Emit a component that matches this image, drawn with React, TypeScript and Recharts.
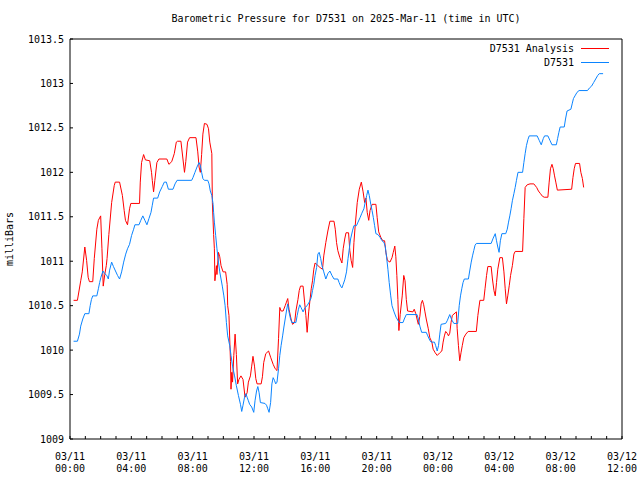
import { LineChart, Line, XAxis, YAxis, Legend } from 'recharts';

const FONT = '"DejaVu Sans Mono", monospace';
const TITLE = 'Barometric Pressure for D7531 on 2025-Mar-11 (time in UTC)';
const seriesNames = ['D7531 Analysis', 'D7531'];

// times are minutes after 03/11 00:00 UTC
const analysisMinutes = [
  14, 29, 42, 48, 58, 65, 71, 76, 89, 95, 105, 111, 120, 125, 130, 136, 142, 145, 152, 163,
  173, 177, 194, 205, 212, 217, 225, 233, 238, 272, 275, 280, 288, 295, 312, 319, 322, 327, 332, 340,
  348, 379, 387, 398, 408, 416, 421, 434, 442, 448, 453, 460, 468, 493, 500, 505, 510, 515, 520, 526,
  536, 542, 547, 555, 557, 562, 565, 567, 573, 575, 581, 586, 591, 599, 609, 615, 617, 622, 628, 630,
  633, 636, 641, 646, 651, 656, 661, 669, 677, 685, 693, 698, 706, 711, 716, 722, 727, 732, 748, 753,
  758, 766, 777, 785, 795, 803, 810, 816, 821, 826, 834, 842, 847, 852, 857, 865, 871, 879, 884, 892,
  897, 902, 912, 918, 923, 928, 934, 939, 944, 949, 954, 959, 967, 978, 988, 993, 1001, 1009, 1017, 1033,
  1038, 1043, 1048, 1056, 1064, 1069, 1075, 1080, 1090, 1095, 1100, 1106, 1111, 1116, 1124, 1132, 1140, 1147, 1153, 1158,
  1163, 1169, 1174, 1182, 1197, 1202, 1208, 1216, 1224, 1231, 1236, 1242, 1252, 1260, 1265, 1271, 1275, 1279, 1283, 1287,
  1292, 1300, 1306, 1311, 1316, 1321, 1342, 1347, 1353, 1358, 1363, 1369, 1374, 1379, 1384, 1389, 1394, 1402, 1408, 1416,
  1421, 1429, 1437, 1447, 1455, 1460, 1465, 1470, 1476, 1481, 1486, 1491, 1496, 1512, 1515, 1520, 1525, 1530, 1535, 1541,
  1549, 1558, 1590, 1596, 1604, 1619, 1624, 1630, 1635, 1648, 1653, 1659, 1664, 1669, 1674, 1682, 1692, 1698, 1703, 1708,
  1713, 1719, 1724, 1731, 1737, 1742, 1771, 1776, 1781, 1789, 1800, 1815, 1826, 1833, 1841, 1849, 1856, 1870, 1875, 1880,
  1886, 1891, 1896, 1901, 1907, 1963, 1968, 1973, 1978, 1994, 1999, 2005, 2010,
];
const analysisMb = [
  1010.56, 1010.56, 1010.78, 1010.88, 1011.16, 1011.01, 1010.82, 1010.77, 1010.77, 1011.03, 1011.36, 1011.46, 1011.51, 1011.14, 1010.72, 1010.85, 1010.95, 1011.03, 1011.3, 1011.66,
  1011.85, 1011.89, 1011.89, 1011.74, 1011.57, 1011.46, 1011.41, 1011.59, 1011.65, 1011.65, 1011.89, 1012.11, 1012.2, 1012.14, 1012.13, 1012.0, 1011.91, 1011.78, 1011.91, 1012.11,
  1012.15, 1012.15, 1012.09, 1012.12, 1012.21, 1012.34, 1012.35, 1012.35, 1012.15, 1012.0, 1012.12, 1012.34, 1012.39, 1012.39, 1012.23, 1012.06, 1012.0, 1012.2, 1012.43, 1012.55,
  1012.54, 1012.49, 1012.34, 1012.21, 1011.66, 1011.3, 1011.14, 1010.78, 1010.95, 1010.85, 1011.1, 1011.05, 1010.95, 1010.88, 1010.88, 1010.74, 1010.5, 1010.39, 1009.87, 1009.56,
  1009.75, 1009.64, 1009.94, 1010.18, 1009.95, 1009.62, 1009.67, 1009.71, 1009.67, 1009.47, 1009.52, 1009.64, 1009.71, 1009.82, 1009.93, 1009.82, 1009.68, 1009.62, 1009.62, 1009.7,
  1009.86, 1009.96, 1009.99, 1009.92, 1009.84, 1009.79, 1009.77, 1010.13, 1010.48, 1010.44, 1010.44, 1010.5, 1010.54, 1010.58, 1010.46, 1010.35, 1010.29, 1010.31, 1010.44, 1010.57,
  1010.67, 1010.72, 1010.72, 1010.54, 1010.39, 1010.2, 1010.43, 1010.56, 1010.69, 1010.78, 1010.91, 1010.98, 1010.96, 1010.93, 1010.91, 1011.06, 1011.21, 1011.34, 1011.45, 1011.45,
  1011.36, 1011.21, 1011.12, 1011.04, 1010.98, 1011.14, 1011.25, 1011.32, 1011.32, 1011.12, 1011.01, 1010.93, 1011.21, 1011.4, 1011.66, 1011.81, 1011.89, 1011.78, 1011.66, 1011.71,
  1011.55, 1011.46, 1011.57, 1011.64, 1011.64, 1011.49, 1011.33, 1011.27, 1011.23, 1011.23, 1011.1, 1011.01, 1010.99, 1011.04, 1011.1, 1011.17, 1011.05, 1010.84, 1010.57, 1010.22,
  1010.4, 1010.61, 1010.84, 1010.78, 1010.57, 1010.44, 1010.43, 1010.46, 1010.41, 1010.35, 1010.29, 1010.38, 1010.52, 1010.56, 1010.51, 1010.43, 1010.35, 1010.24, 1010.14, 1010.09,
  1010.01, 1009.97, 1009.94, 1009.97, 1009.99, 1010.09, 1010.16, 1010.21, 1010.19, 1010.16, 1010.19, 1010.31, 1010.39, 1010.43, 1010.24, 1010.05, 1009.88, 1009.97, 1010.05, 1010.14,
  1010.18, 1010.21, 1010.21, 1010.39, 1010.56, 1010.56, 1010.69, 1010.84, 1010.94, 1010.94, 1010.8, 1010.67, 1010.61, 1010.76, 1010.91, 1011.04, 1011.04, 1010.88, 1010.69, 1010.52,
  1010.61, 1010.73, 1010.84, 1010.95, 1011.08, 1011.11, 1011.11, 1011.48, 1011.83, 1011.86, 1011.87, 1011.87, 1011.83, 1011.79, 1011.76, 1011.73, 1011.72, 1011.72, 1011.89, 1012.04,
  1012.09, 1012.04, 1011.96, 1011.89, 1011.8, 1011.81, 1011.94, 1012.04, 1012.1, 1012.1, 1012.0, 1011.93, 1011.83,
];

const stationMinutes = [
  14, 29, 37, 42, 50, 58, 74, 79, 84, 89, 105, 111, 116, 121, 129, 136, 144, 150, 155, 163,
  170, 178, 186, 194, 202, 210, 218, 225, 233, 241, 249, 254, 270, 277, 285, 293, 301, 309, 317, 322,
  327, 343, 351, 361, 369, 377, 385, 403, 411, 419, 476, 481, 489, 497, 505, 510, 515, 520, 526, 539,
  544, 549, 555, 560, 562, 565, 570, 575, 581, 586, 591, 596, 602, 607, 612, 617, 625, 630, 636, 644,
  651, 659, 667, 672, 677, 683, 688, 693, 698, 703, 711, 719, 724, 730, 735, 740, 745, 763, 769, 774,
  779, 785, 790, 795, 800, 805, 810, 816, 821, 826, 832, 837, 842, 847, 852, 857, 863, 868, 884, 889,
  894, 899, 904, 912, 920, 928, 936, 944, 949, 954, 959, 965, 970, 975, 981, 986, 993, 1001, 1009, 1017,
  1025, 1033, 1048, 1053, 1059, 1064, 1069, 1075, 1082, 1088, 1093, 1098, 1106, 1111, 1121, 1127, 1135, 1142, 1150, 1155,
  1161, 1166, 1171, 1177, 1182, 1187, 1192, 1197, 1205, 1213, 1221, 1229, 1234, 1239, 1244, 1249, 1255, 1260, 1268, 1276,
  1280, 1288, 1303, 1308, 1316, 1358, 1363, 1369, 1376, 1394, 1400, 1408, 1413, 1426, 1431, 1437, 1442, 1447, 1452, 1470,
  1476, 1486, 1491, 1496, 1502, 1517, 1523, 1528, 1533, 1538, 1543, 1559, 1564, 1570, 1575, 1580, 1585, 1590, 1648, 1656,
  1664, 1669, 1674, 1679, 1684, 1690, 1705, 1711, 1716, 1721, 1726, 1731, 1737, 1742, 1747, 1753, 1771, 1776, 1781, 1786,
  1792, 1797, 1828, 1836, 1844, 1852, 1857, 1870, 1878, 1886, 1903, 1908, 1913, 1918, 1934, 1939, 1945, 1960, 1965, 1970,
  1976, 1984, 1992, 2025, 2033, 2041, 2049, 2057, 2065, 2071, 2086,
];
const stationMb = [
  1010.1, 1010.1, 1010.18, 1010.27, 1010.35, 1010.41, 1010.41, 1010.5, 1010.57, 1010.61, 1010.61, 1010.69, 1010.76, 1010.82, 1010.89, 1010.86, 1010.84, 1010.8, 1010.9, 1010.99,
  1010.94, 1010.89, 1010.84, 1010.8, 1010.88, 1010.99, 1011.08, 1011.14, 1011.19, 1011.29, 1011.36, 1011.41, 1011.41, 1011.46, 1011.51, 1011.46, 1011.41, 1011.48, 1011.55, 1011.63,
  1011.71, 1011.71, 1011.78, 1011.84, 1011.89, 1011.89, 1011.81, 1011.81, 1011.87, 1011.91, 1011.91, 1011.94, 1012.0, 1012.06, 1012.11, 1012.08, 1012.0, 1011.93, 1011.91, 1011.91,
  1011.87, 1011.79, 1011.74, 1011.64, 1011.55, 1011.44, 1011.29, 1011.14, 1010.99, 1010.88, 1010.8, 1010.72, 1010.61, 1010.5, 1010.31, 1010.16, 1010.05, 1009.94, 1009.82, 1009.71,
  1009.6, 1009.49, 1009.39, 1009.31, 1009.38, 1009.47, 1009.51, 1009.47, 1009.43, 1009.39, 1009.36, 1009.3, 1009.43, 1009.54, 1009.59, 1009.52, 1009.41, 1009.4, 1009.38, 1009.34,
  1009.3, 1009.41, 1009.62, 1009.69, 1009.66, 1009.62, 1009.64, 1009.79, 1009.94, 1010.05, 1010.16, 1010.26, 1010.35, 1010.44, 1010.52, 1010.43, 1010.35, 1010.31, 1010.31, 1010.39,
  1010.46, 1010.51, 1010.48, 1010.43, 1010.48, 1010.5, 1010.54, 1010.59, 1010.67, 1010.74, 1010.84, 1010.93, 1011.08, 1011.1, 1011.03, 1010.95, 1010.88, 1010.8, 1010.86, 1010.89,
  1010.84, 1010.8, 1010.8, 1010.76, 1010.72, 1010.7, 1010.74, 1010.79, 1010.88, 1011.03, 1011.14, 1011.25, 1011.35, 1011.4, 1011.4, 1011.44, 1011.49, 1011.54, 1011.59, 1011.66,
  1011.74, 1011.8, 1011.74, 1011.64, 1011.57, 1011.49, 1011.4, 1011.31, 1011.3, 1011.27, 1011.23, 1011.21, 1011.16, 1011.04, 1010.91, 1010.76, 1010.61, 1010.5, 1010.43, 1010.37,
  1010.35, 1010.31, 1010.31, 1010.35, 1010.4, 1010.4, 1010.35, 1010.27, 1010.2, 1010.2, 1010.16, 1010.11, 1010.09, 1010.09, 1010.05, 1009.99, 1010.05, 1010.18, 1010.29, 1010.3,
  1010.33, 1010.4, 1010.36, 1010.33, 1010.3, 1010.3, 1010.5, 1010.61, 1010.69, 1010.76, 1010.8, 1010.8, 1010.89, 1010.99, 1011.06, 1011.12, 1011.18, 1011.2, 1011.2, 1011.26,
  1011.31, 1011.23, 1011.16, 1011.1, 1011.23, 1011.31, 1011.31, 1011.36, 1011.44, 1011.51, 1011.59, 1011.68, 1011.76, 1011.83, 1011.91, 1012.0, 1012.0, 1012.11, 1012.21, 1012.3,
  1012.37, 1012.41, 1012.41, 1012.36, 1012.31, 1012.38, 1012.41, 1012.41, 1012.36, 1012.31, 1012.31, 1012.38, 1012.45, 1012.51, 1012.51, 1012.6, 1012.69, 1012.71, 1012.77, 1012.83,
  1012.86, 1012.9, 1012.92, 1012.92, 1012.95, 1012.97, 1013.01, 1013.05, 1013.09, 1013.11, 1013.11,
];

const hourTicks = Array.from({ length: 37 }, (_, i) => i * 60);
const dateLabels = ['03/11', '03/11', '03/11', '03/11', '03/11', '03/11', '03/12', '03/12', '03/12', '03/12'];
const timeLabels = ['00:00', '04:00', '08:00', '12:00', '16:00', '20:00', '00:00', '04:00', '08:00', '12:00'];
const pressureTicks = [1009, 1009.5, 1010, 1010.5, 1011, 1011.5, 1012, 1012.5, 1013, 1013.5];

const analysisData = analysisMinutes.map((t, i) => ({ t, mb: analysisMb[i] }));
const stationData = stationMinutes.map((t, i) => ({ t, mb: stationMb[i] }));

const TimeTick = ({ x, y, payload }: any) => {
  const minute = payload.value;
  if (minute % 240 !== 0) return <g />;
  const idx = minute / 240;
  return (
    <text x={x} y={y} textAnchor="middle" fontFamily={FONT} fontSize={10} fill="#000">
      <tspan x={x} dy={12}>{dateLabels[idx]}</tspan>
      <tspan x={x} dy={12}>{timeLabels[idx]}</tspan>
    </text>
  );
};

// keep gnuplot's key order (plot order), not alphabetical
const LegendBox = ({ payload }: any) => {
  const items = [...(payload || [])].sort(
    (a: any, b: any) => seriesNames.indexOf(a.value) - seriesNames.indexOf(b.value)
  );
  return (
    <div style={{ fontFamily: FONT, fontSize: 10, color: '#000' }}>
      {items.map((entry: any) => (
        <div
          key={entry.value}
          style={{ display: 'flex', alignItems: 'center', justifyContent: 'flex-end', height: 14 }}
        >
          <span style={{ marginRight: 7 }}>{entry.value}</span>
          <span style={{ width: 28, height: 0, borderTop: `1px solid ${entry.color}` }} />
        </div>
      ))}
    </div>
  );
};

export default function App() {
  return (
    <div style={{ position: 'absolute', left: 0, top: 0, width: 640, height: 480, background: '#fff' }}>
      <div
        style={{
          position: 'absolute', left: 70, top: 13, width: 552, textAlign: 'center',
          fontFamily: FONT, fontSize: 10, lineHeight: '12px', color: '#000', zIndex: 2,
        }}
      >
        {TITLE}
      </div>
      <div
        style={{
          position: 'absolute', left: 10, top: 239, transform: 'translate(-50%, -50%) rotate(-90deg)',
          fontFamily: FONT, fontSize: 10, lineHeight: '12px', color: '#000', whiteSpace: 'nowrap', zIndex: 2,
        }}
      >
        milliBars
      </div>
      <LineChart width={640} height={480} margin={{ top: 39, right: 18, bottom: 0, left: 0 }}>
        <XAxis
          dataKey="t"
          type="number"
          domain={[0, 2160]}
          ticks={hourTicks}
          interval={0}
          allowDataOverflow
          height={41}
          stroke="#000"
          tickSize={-3}
          tickMargin={12}
          tick={<TimeTick />}
        />
        <XAxis
          xAxisId="top"
          orientation="top"
          type="number"
          domain={[0, 2160]}
          ticks={hourTicks}
          interval={0}
          allowDataOverflow
          mirror
          stroke="#000"
          tickSize={3}
          tick={false}
        />
        <YAxis
          type="number"
          domain={[1009, 1013.5]}
          ticks={pressureTicks}
          interval={0}
          allowDataOverflow
          width={70}
          stroke="#000"
          tickSize={-3}
          tickMargin={9}
          tick={{ fontFamily: FONT, fontSize: 10, fill: '#000' }}
        />
        <YAxis
          yAxisId="right"
          orientation="right"
          type="number"
          domain={[1009, 1013.5]}
          ticks={pressureTicks}
          interval={0}
          allowDataOverflow
          mirror
          stroke="#000"
          tickSize={3}
          tick={false}
        />
        <Legend
          layout="vertical"
          align="center"
          verticalAlign="middle"
          content={<LegendBox />}
          wrapperStyle={{ top: 41, right: 31, left: 'auto', width: 'auto' }}
        />
        <Line
          data={analysisData}
          dataKey="mb"
          name={seriesNames[0]}
          type="linear"
          stroke="#ff0000"
          strokeWidth={1}
          dot={false}
          activeDot={false}
          isAnimationActive={false}
        />
        <Line
          data={stationData}
          dataKey="mb"
          name={seriesNames[1]}
          type="linear"
          stroke="#0a84ff"
          strokeWidth={1}
          dot={false}
          activeDot={false}
          isAnimationActive={false}
        />
      </LineChart>
    </div>
  );
}
